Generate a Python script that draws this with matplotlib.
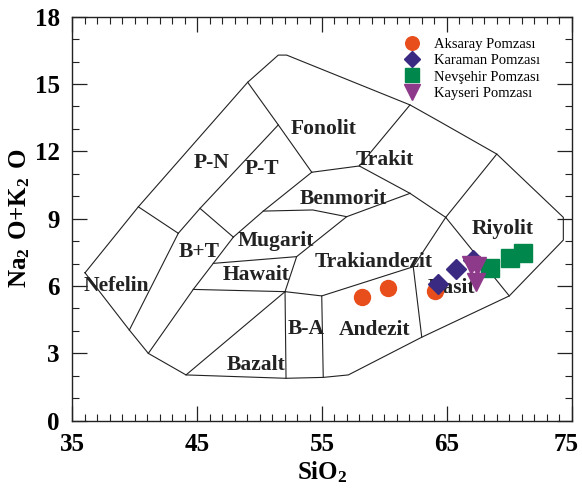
import matplotlib
matplotlib.use("Agg")
import matplotlib.pyplot as plt
from matplotlib.ticker import MultipleLocator
from matplotlib.transforms import ScaledTranslation

plt.rcParams['font.family'] = ['Liberation Serif', 'DejaVu Serif']
plt.rcParams['mathtext.fontset'] = 'custom'
plt.rcParams['mathtext.rm'] = 'Liberation Serif'
plt.rcParams['mathtext.bf'] = 'Liberation Serif:bold'

# TAS diyagrami sinirlari (SiO2, Na2O+K2O)
outer = [(36.02, 6.59), (40.29, 9.53), (49.05, 15.08), (51.50, 16.29), (52.17, 16.29),
         (62.05, 14.07), (64.45, 13.32), (69.00, 11.88), (74.33, 9.06), (74.33, 8.05),
         (70.00, 5.56), (62.99, 3.72), (57.11, 2.04), (55.10, 1.93), (52.12, 1.89),
         (44.11, 2.04), (41.09, 3.00), (39.57, 4.04), (36.02, 6.59)]
inner = [
    [(40.29, 9.53), (43.49, 8.35)],
    [(43.49, 8.35), (39.57, 4.04)],
    [(43.49, 8.35), (45.23, 9.46), (51.50, 13.18)],
    [(49.05, 15.08), (51.50, 13.18), (54.18, 11.07)],
    [(45.23, 9.46), (47.90, 8.18)],
    [(47.90, 8.18), (46.29, 7.01), (44.69, 5.85), (41.09, 3.00)],
    [(54.18, 11.07), (50.30, 9.34), (47.90, 8.18)],
    [(54.18, 11.07), (57.99, 11.35)],
    [(57.99, 11.35), (62.05, 14.07)],
    [(57.99, 11.35), (62.05, 10.13)],
    [(50.30, 9.34), (54.26, 9.39), (56.98, 9.09), (62.05, 10.13)],
    [(62.05, 10.13), (64.91, 9.06)],
    [(64.91, 9.06), (69.00, 11.88)],
    [(64.91, 9.06), (70.00, 5.56)],
    [(64.91, 9.06), (62.31, 6.86), (62.99, 3.72)],
    [(56.98, 9.09), (52.97, 7.31)],
    [(46.29, 7.01), (52.97, 7.31), (52.04, 5.75)],
    [(44.69, 5.85), (52.04, 5.75)],
    [(52.04, 5.75), (54.98, 5.56), (62.31, 6.86)],
    [(52.04, 5.75), (52.12, 1.89)],
    [(54.98, 5.56), (55.10, 1.93)],
    [(52.04, 5.75), (44.11, 2.04)],
]

field_names = ['Fonolit', 'Trakit', 'P-N', 'P-T', 'Benmorit', 'Riyolit', 'B+T', 'Mugarit',
               'Trakiandezit', 'Hawait', 'Nefelin', 'Dasit', 'B-A', 'Andezit', 'Bazalt']
field_x = [55.1, 60.0, 46.2, 50.2, 56.7, 69.5, 45.2, 51.3, 59.1, 49.7, 38.5, 65.4, 53.7, 59.2, 49.7]
field_y = [13.0, 11.6, 11.5, 11.2, 9.9, 8.55, 7.5, 8.0, 7.05, 6.5, 6.0, 5.9, 4.1, 4.05, 2.5]

# ornekler
aksaray_x = [58.18, 60.31, 64.05]
aksaray_y = [5.52, 5.90, 5.80]
karaman_x = [64.31, 65.73, 67.12]
karaman_y = [6.09, 6.75, 7.15]
nevsehir_x = [68.46, 70.06, 71.13]
nevsehir_y = [6.82, 7.26, 7.46]
kayseri_x = [66.9, 67.45, 67.3]
kayseri_y = [6.95, 6.9, 6.2]

x_ticks = [35, 45, 55, 65, 75]

fig = plt.figure(figsize=(5.82, 4.9), dpi=100)
ax = fig.add_axes([0.1242, 0.1414, 0.8581, 0.8245])

lc = '#222222'
ax.plot([p[0] for p in outer], [p[1] for p in outer], color=lc, lw=0.8)
for seg in inner:
    ax.plot([p[0] for p in seg], [p[1] for p in seg], color=lc, lw=0.8)

for name, x, y in zip(field_names, field_x, field_y):
    ax.text(x, y, name, ha='center', va='center', fontsize=15.5, fontweight='bold',
            color='#222222', zorder=3)

ax.plot(aksaray_x, aksaray_y, 'o', color='#E84E1B', ms=11.5, ls='none', label='Aksaray Pomzası', zorder=4)
ax.plot(karaman_x, karaman_y, 'D', color='#3A2A82', ms=10, ls='none', label='Karaman Pomzası', zorder=4)
ax.plot(nevsehir_x, nevsehir_y, 's', color='#00874B', ms=12.5, ls='none', label='Nevşehir Pomzası', zorder=4)
ax.plot(kayseri_x, kayseri_y, 'v', color='#8E3A8A', ms=13, ls='none', label='Kayseri Pomzası', zorder=4)

leg = ax.legend(loc='upper left', bbox_to_anchor=(0.64, 0.963), frameon=False, fontsize=10.5,
                handletextpad=0.5, labelspacing=0.22, borderaxespad=0, markerscale=0.85)

ax.set_xlim(35, 75)
ax.set_ylim(0, 18)
ax.set_xticks(x_ticks)
ax.xaxis.set_minor_locator(MultipleLocator(1))
ax.yaxis.set_major_locator(MultipleLocator(3))
ax.yaxis.set_minor_locator(MultipleLocator(1))
ax.tick_params(which='both', direction='in', top=True, right=True, color='#222222')
ax.tick_params(which='major', length=11, width=0.9, labelsize=18, pad=9)
ax.tick_params(which='minor', length=5, width=0.8)
for lab in ax.get_xticklabels() + ax.get_yticklabels():
    lab.set_fontweight('bold')
# son etiket kenarda kesilmesin
last = ax.get_xticklabels()[-1]
last.set_transform(last.get_transform() + ScaledTranslation(-4 / 72, 0, fig.dpi_scale_trans))
for s in ax.spines.values():
    s.set_linewidth(1.0)
    s.set_color('#222222')

ax.set_xlabel(r'$\mathbf{SiO_2}$', fontsize=18, labelpad=2)
ax.set_ylabel(r'$\mathbf{Na_2\ O{+}K_2\ O}$', fontsize=18, labelpad=2)

fig.savefig('out.png', dpi=100)
